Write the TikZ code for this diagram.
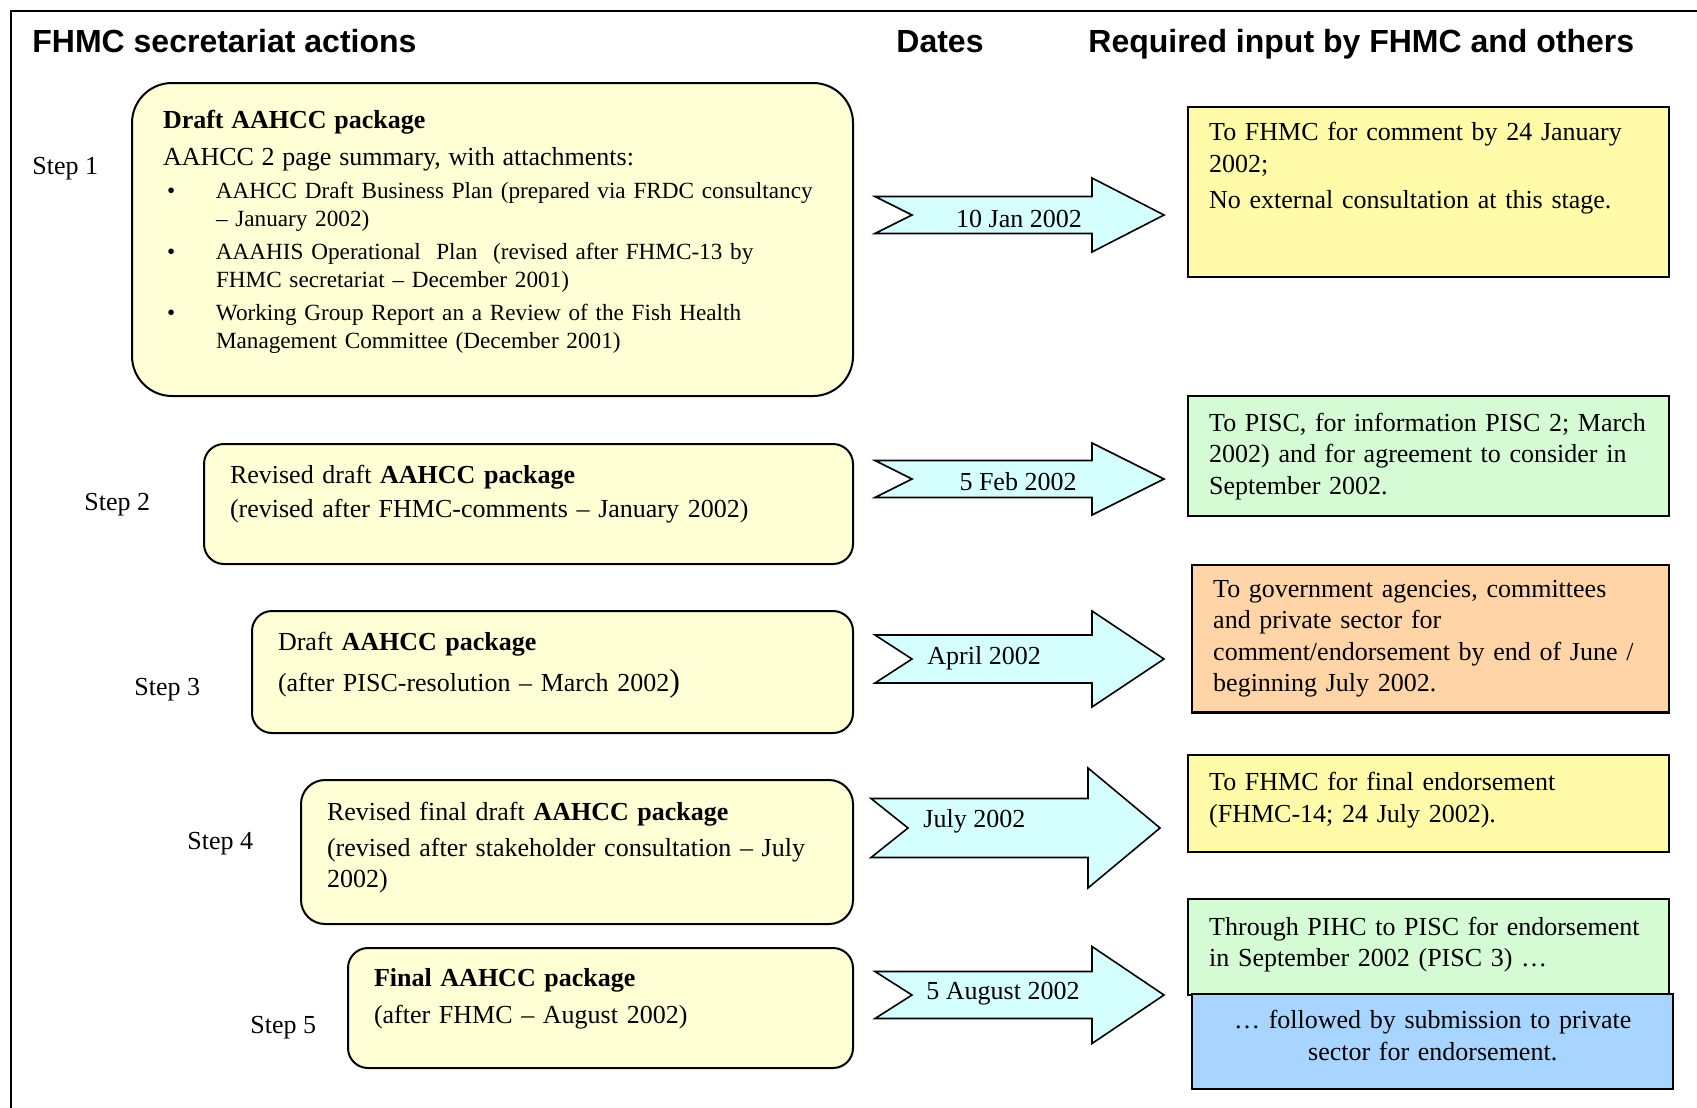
\documentclass[tikz,border=0pt]{standalone}
\usepackage{fontspec}
\setmainfont{Liberation Serif}
\newfontfamily\headfont{Liberation Sans}
\definecolor{pkgyellow}{HTML}{FFFFD5}
\definecolor{datecyan}{HTML}{D5FFFF}
\definecolor{inyellow}{HTML}{FFFBA8}
\definecolor{ingreen}{HTML}{D4FBD4}
\definecolor{inorange}{HTML}{FFD5A8}
\definecolor{inblue}{HTML}{A8D5FF}
\newcommand{\attach}{\hspace*{2pt}\makebox[24.5pt][l]{\textbullet}}
\newcommand{\attcont}{\hspace*{26.5pt}}
\newcommand{\padbelow}[1]{\rule[-#1]{0pt}{#1}}

\begin{document}
\begin{tikzpicture}[x=0.5pt,y=-0.5pt,font=\fontsize{13}{15.5}\selectfont,
    head/.style={anchor=base west,inner sep=0pt,font=\headfont\bfseries\fontsize{16}{19}\selectfont},
    steplab/.style={anchor=west,inner sep=0pt},
    pkgbox/.style={draw,line width=1pt,fill=pkgyellow,rounded corners=10pt,
      anchor=north west,align=left,inner xsep=13pt,inner ysep=0pt},
    datearrow/.style={draw,line width=0.8pt,fill=datecyan,line join=miter},
    datelab/.style={inner sep=0pt},
    inbox/.style={draw,line width=1.2pt,anchor=north west,align=left,
      inner xsep=10.5pt,inner ysep=7.5pt,text width=219.5pt,
      font=\fontsize{13}{15.75}\selectfont}]
    \useasboundingbox (0,0) rectangle (1697,1108);

    % frame, cut off on the right and at the bottom
    \draw[line width=1pt] (11,1108) -- (11,11) -- (1697,11);

    % column headings
    \node[head] (hact)  at (32,52)   {FHMC secretariat actions};
    \node[head] (hdate) at (896,52)  {Dates};
    \node[head] (hin)   at (1088,52) {Required input by FHMC and others};

    % steps
    \foreach \n/\x/\y in {1/32/169, 2/84/505, 3/134/690, 4/187/844, 5/250/1028}
      \node[steplab] (step\n) at (\x,\y) {Step \n};

    % secretariat packages
    \node[pkgbox,rounded corners=20pt,inner xsep=15.5pt,text width=329.5pt,
          minimum height=156.5pt,font=\fontsize{11.6}{14}\selectfont] (pkg1) at (131,82)
      {{\fontsize{13}{15}\selectfont\textbf{Draft AAHCC package}}\\[4.5pt]
       {\fontsize{13}{15}\selectfont AAHCC 2 page summary, with attachments:}\\[2.5pt]
       \attach\mbox{AAHCC Draft Business Plan (prepared via FRDC consultancy}\\
       \attcont – January 2002)\\[2.5pt]
       \attach AAAHIS Operational\ \ Plan\ \ (revised after FHMC-13 by\\
       \attcont FHMC secretariat – December 2001)\\[2.5pt]
       \attach Working Group Report an a Review of the Fish Health\\
       \attcont Management Committee (December 2001)\padbelow{10pt}};
    \node[pkgbox,text width=298.5pt,minimum height=60pt] (pkg2) at (203,443)
      {Revised draft \textbf{AAHCC package}\\[1.5pt]
       (revised after FHMC-comments – January 2002)\padbelow{13pt}};
    \node[pkgbox,text width=274.5pt,minimum height=61pt] (pkg3) at (251,610)
      {Draft \textbf{AAHCC package}\\[5pt]
       (after PISC-resolution – March 2002{\fontsize{16}{16}\selectfont)}\padbelow{10pt}};
    \node[pkgbox,text width=250pt,minimum height=72pt,rounded corners=12pt] (pkg4) at (300,779)
      {Revised final draft \textbf{AAHCC package}\\[2.5pt]
       (revised after stakeholder consultation – July\\
       2002)\padbelow{7pt}};
    \node[pkgbox,text width=226.5pt,minimum height=60pt] (pkg5) at (347,947)
      {\textbf{Final AAHCC package}\\[3pt]
       (after FHMC – August 2002)\padbelow{12pt}};

    % date arrows
    \foreach \y/\bh/\hh/\dx in {215/18.5/37/0, 479/18.5/36/0, 659/24/48/0, 828/29.5/60/-4, 995/23.5/48.5/0}
      \draw[datearrow] ({875+\dx},{\y-\bh}) -- ({1092+\dx},{\y-\bh}) -- ({1092+\dx},{\y-\hh})
        -- ({1164+\dx},\y) -- ({1092+\dx},{\y+\hh}) -- ({1092+\dx},{\y+\bh})
        -- ({875+\dx},{\y+\bh}) -- ({912+\dx},\y) -- cycle;

    \node[datelab] (date1) at (1019,219) {10 Jan 2002};
    \node[datelab] (date2) at (1018,482) {5 Feb 2002};
    \node[datelab,anchor=west] (date3) at (927,658) {April 2002};
    \node[datelab,anchor=west] (date4) at (923,821) {July 2002};
    \node[datelab,anchor=west] (date5) at (926,994) {5 August 2002};

    % required input
    \node[inbox,fill=inyellow] (in1) at (1187,106)
      {To FHMC for comment by 24 January\\
       2002;\\[2.25pt]
       No external consultation at this stage.\padbelow{27pt}};
    \node[inbox,fill=ingreen,minimum height=60pt] (in2) at (1187,395)
      {To PISC, for information PISC 2; March\\
       2002) and for agreement to consider in\\
       September 2002.};
    \node[inbox,fill=inorange,minimum height=72.5pt,text width=217.5pt] (in3) at (1191,564)
      {To government agencies, committees\\
       and private sector for\\
       comment/endorsement by end of June /\\
       beginning July 2002.};
    \node[inbox,fill=inyellow,minimum height=48.5pt] (in4) at (1187,754)
      {To FHMC for final endorsement\\
       (FHMC-14; 24 July 2002).\padbelow{6.5pt}};
    \node[inbox,fill=ingreen,minimum height=48pt] (in5a) at (1187,898)
      {Through PIHC to PISC for endorsement\\
       in September 2002 (PISC 3) …\padbelow{5.5pt}};
    \node[inbox,fill=inblue,minimum height=47.5pt,align=center] (in5b) at (1191,993)
      {… followed by submission to private\\
       sector for endorsement.\padbelow{6.5pt}};
\end{tikzpicture}
\end{document}
